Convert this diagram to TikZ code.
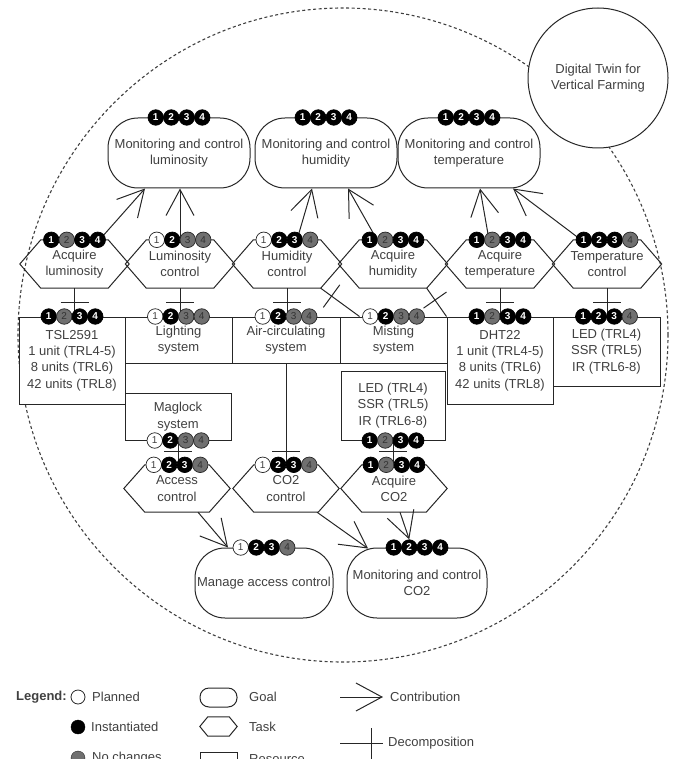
\documentclass[tikz,border=0pt]{standalone}
\usepackage{fontspec}
\setmainfont{Liberation Sans}
\usetikzlibrary{arrows.meta,calc,decorations.markings,shapes.geometric}
\definecolor{txt}{HTML}{404040}
\definecolor{ln}{HTML}{262626}
\definecolor{gb}{HTML}{707070}
\tikzset{
  lbl/.style={font=\fontsize{13}{16.3}\selectfont, text=txt, align=center},
  goal/.style={lbl, draw=ln, line width=1pt, fill=white, rounded corners=30pt, minimum width=#1, minimum height=70pt, inner sep=0pt},
  taskbox/.style={lbl, minimum width=#1, minimum height=48pt, inner sep=0pt},
  res/.style 2 args={lbl, draw=ln, line width=1pt, fill=white, inner sep=0pt, minimum width=#1, minimum height=#2},
  badgebase/.style={circle, minimum size=15.5pt, inner sep=0pt, line width=0.7pt},
  badgeB/.style={badgebase, draw=black, fill=black, text=white, font=\bfseries\fontsize{10}{10}\selectfont},
  badgeG/.style={badgebase, draw=ln, fill=gb, text=black!80, font=\fontsize{10}{10}\selectfont},
  badgeW/.style={badgebase, draw=ln, fill=white, text=txt, font=\fontsize{10}{10}\selectfont},
  contrib/.style={draw=ln, line width=1pt, -{Straight Barb[length=26pt, width=28pt]}},
  decomp/.style={draw=ln, line width=1pt, postaction={decorate},
    decoration={markings, mark=at position #1 with {\draw[draw=ln, line width=1pt] (0pt,-14pt) -- (0pt,14pt);}}},
  legtxt/.style={lbl, anchor=west, inner sep=0pt}
}
\newcommand{\badgerow}[3]{%
  \foreach \s [count=\i] in {#3} {\node[badge\s] (#1-b\i) at ($(#1.#2)+({(\i-2.5)*15.5},0)$) {\i};}}
\newcommand{\hexdraw}[2]{%
  \draw[draw=ln, line width=1pt] (#1.west) -- ([xshift=#2]#1.north west) -- ([xshift=-#2]#1.north east) -- (#1.east) -- ([xshift=-#2]#1.south east) -- ([xshift=#2]#1.south west) -- cycle;}
\begin{document}
\begin{tikzpicture}[x=1pt, y=-1pt]
\useasboundingbox (0,0) rectangle (679,759);
\clip (0,0) rectangle (679,759);
% boundary
\node[ellipse, draw=black!75, line width=1.1pt, dash pattern=on 3pt off 2.5pt, minimum width=650pt, minimum height=654pt, inner sep=0pt] (bd) at (343,335) {};
\node[circle, draw=ln, line width=1pt, fill=white, minimum size=140pt, inner sep=0pt, lbl] (dt) at (598,78) {Digital Twin for\\Vertical Farming};
% goals
\node[goal=142pt] (g1) at (179,153) {Monitoring and control\\luminosity};
\node[goal=142pt] (g2) at (326,153) {Monitoring and control\\humidity};
\node[goal=142pt] (g3) at (469,153) {Monitoring and control\\temperature};
\node[goal=138pt] (gm) at (264,583) {Manage access control};
\node[goal=140pt] (gc) at (417,583) {Monitoring and control\\CO2};
% tasks
\node[taskbox=109pt] (t1) at (74.5,264) {Acquire\\luminosity};
\node[taskbox=109pt] (t2) at (180,264) {Luminosity\\control};
\node[taskbox=109pt] (t3) at (287,264) {Humidity\\control};
\node[taskbox=109pt] (t4) at (393,264) {Acquire\\humidity};
\node[taskbox=109pt] (t5) at (500,264) {Acquire\\temperature};
\node[taskbox=109pt] (t6) at (607,264) {Temperature\\control};
\node[taskbox=106pt, minimum height=47pt] (ta) at (177,488.5) {Access\\control};
\node[taskbox=106pt, minimum height=47pt] (tc) at (286,488.5) {CO2\\control};
\node[taskbox=106pt, minimum height=47pt] (tq) at (394,488.5) {Acquire\\CO2};
\foreach \n in {t1,t2,t3,t4,t5,t6,ta,tc,tq} {\hexdraw{\n}{21pt}}
% resources
\node[res={106pt}{87pt}] (r1) at (72,360.5) {TSL2591\\1 unit (TRL4-5)\\8 units (TRL6)\\42 units (TRL8)};
\node[res={107pt}{46pt}] (r2) at (178.5,340) {Lighting\\system};
\node[res={108pt}{46pt}] (r3) at (286,340) {Air-circulating\\system};
\node[res={107pt}{46pt}] (r4) at (393.5,340) {Misting\\system};
\node[res={106pt}{87pt}] (r5) at (500,360.5) {DHT22\\1 unit (TRL4-5)\\8 units (TRL6)\\42 units (TRL8)};
\node[res={107pt}{69pt}] (r6) at (606.5,351.5) {LED (TRL4)\\SSR (TRL5)\\IR (TRL6-8)};
\node[res={106pt}{47pt}] (r7) at (178,416.5) {Maglock\\system};
\node[res={104pt}{69pt}] (r8) at (393,405.5) {LED (TRL4)\\SSR (TRL5)\\IR (TRL6-8)};
% contributions
\draw[contrib] ([xshift=25pt]t1.north) -- ([xshift=-34pt]g1.south);
\draw[contrib] (t2.north) -- (t2.north |- g1.south);
\draw[contrib] ([xshift=10pt]t3.north) -- ([xshift=-14pt]g2.south);
\draw[contrib] ([xshift=-16pt]t4.north) -- ([xshift=22pt]g2.south);
\draw[contrib] ([xshift=-11pt]t5.north) -- ([xshift=11pt]g3.south);
\draw[contrib] ([xshift=-26pt]t6.north) -- ([xshift=44pt]g3.south);
\draw[contrib] ([xshift=21pt]ta.south) -- ([xshift=-36pt]gm.north);
\draw[contrib] ([xshift=31pt]tc.south) -- ([xshift=-49pt,yshift=-1pt]gc.north);
% decompositions
\draw[decomp=0.5] (t1.south) -- (t1.south |- r1.north);
\draw[decomp=0.5] (t2.south) -- (t2.south |- r2.north);
\draw[decomp=0.5] (t3.south) -- (t3.south |- r3.north);
\draw[decomp=0.28] ([xshift=-21pt]t3.south east) -- ([xshift=20pt]r4.north west);
\draw[decomp=0.42] ([xshift=-21pt]t4.south east) -- (r5.north west);
\draw[decomp=0.5] (t5.south) -- (t5.south |- r5.north);
\draw[decomp=0.5] (t6.south) -- (t6.south |- r6.north);
\draw[decomp=0.87] (r3.south) -- (r3.south |- tc.north);
\draw[decomp=0.45] (r7.south) -- (r7.south |- ta.north);
\draw[decomp=0.45] (r8.south) -- (r8.south |- tq.north);
% badges
\badgerow{g1}{north}{B,B,B,B}
\badgerow{g2}{north}{B,B,B,B}
\badgerow{g3}{north}{B,B,B,B}
\badgerow{t1}{north}{B,G,B,B}
\badgerow{t2}{north}{W,B,G,G}
\badgerow{t3}{north}{W,B,B,G}
\badgerow{t4}{north}{B,G,B,B}
\badgerow{t5}{north}{B,G,B,B}
\badgerow{t6}{north}{B,B,B,G}
\badgerow{r1}{north}{B,G,B,B}
\badgerow{r2}{north}{W,B,G,G}
\badgerow{r3}{north}{W,B,G,G}
\badgerow{r4}{north}{W,B,G,G}
\badgerow{r5}{north}{B,G,B,B}
\badgerow{r6}{north}{B,B,B,G}
\badgerow{r7}{south}{W,B,G,G}
\badgerow{r8}{south}{B,G,B,B}
\badgerow{ta}{north}{W,B,B,G}
\badgerow{tc}{north}{W,B,B,G}
\badgerow{tq}{north}{B,G,B,B}
\badgerow{gm}{north}{W,B,B,G}
\badgerow{gc}{north}{B,B,B,B}
\draw[contrib] ([xshift=6pt]tq.south) -- (gc-b2.north);
% legend
\node[legtxt, font=\bfseries\fontsize{13}{16}\selectfont] (lgt) at (16,697) {Legend:};
\node[circle, draw=ln, fill=white, minimum size=14pt, inner sep=0pt, line width=0.8pt] (lgw) at (78,697) {};
\node[legtxt] (lgwt) at (92,697) {Planned};
\node[circle, draw=black, fill=black, minimum size=14pt, inner sep=0pt] (lgb) at (78,727) {};
\node[legtxt] (lgbt) at (91,727) {Instantiated};
\node[circle, draw=ln, fill=gb, minimum size=14pt, inner sep=0pt] (lgg) at (78,758) {};
\node[legtxt] (lggt) at (92,758) {No changes};
\node[draw=ln, line width=1pt, rounded corners=9pt, minimum width=37pt, minimum height=19pt, inner sep=0pt] (lgo) at (218.5,697.5) {};
\node[legtxt] (lgot) at (249,697) {Goal};
\node[minimum width=37pt, minimum height=19pt, inner sep=0pt] (lgh) at (218.5,726.5) {};
\hexdraw{lgh}{8pt}
\node[legtxt] (lght) at (249,727) {Task};
\node[draw=ln, line width=1pt, minimum width=37pt, minimum height=19pt, inner sep=0pt] (lgr) at (218.5,761.5) {};
\node[legtxt] (lgrt) at (249,759) {Resource};
\coordinate (lc1) at (340,697);
\coordinate (lc2) at (383,697);
\draw[contrib] (lc1) -- (lc2);
\node[legtxt] (lcct) at (390,697) {Contribution};
\coordinate (ld1) at (340,743);
\coordinate (ld2) at (383,743);
\draw[draw=ln, line width=1pt] (ld1) -- (ld2);
\coordinate (ld3) at (371,728);
\coordinate (ld4) at (371,760);
\draw[draw=ln, line width=1pt] (ld3) -- (ld4);
\node[legtxt] (ldt) at (388,743) {Decomposition};
\end{tikzpicture}
\end{document}
